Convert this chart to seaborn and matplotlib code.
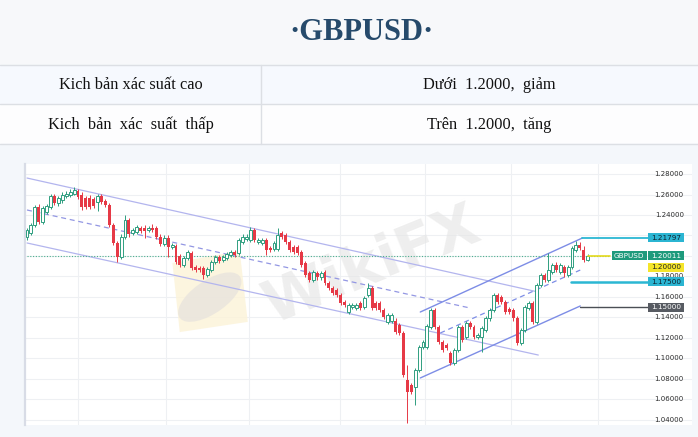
import numpy as np
import matplotlib
matplotlib.use('Agg')
import matplotlib.pyplot as plt
import matplotlib.patches as mpatches
import seaborn as sns

sns.set_theme(style='white')
plt.rcParams['font.family'] = ['DejaVu Sans']

# ---------------- text of the header table ----------------
TITLE = '·GBPUSD·'
ROW_LABELS = ['Kich bản xác suất cao', 'Kich  bản  xác  suất  thấp']
ROW_VALUES = ['Dưới  1.2000,  giảm', 'Trên  1.2000,  tăng']

# ---------------- daily candles GBPUSD ----------------
OPEN = [1.219, 1.222, 1.230, 1.248, 1.233, 1.243, 1.248, 1.259, 1.252, 1.255,
        1.259, 1.260, 1.261, 1.263, 1.260, 1.257, 1.257, 1.256, 1.253, 1.259,
        1.254, 1.250, 1.230, 1.213, 1.199, 1.219, 1.235, 1.222, 1.223, 1.227,
        1.227, 1.225, 1.227, 1.227, 1.219, 1.212, 1.218, 1.209, 1.210, 1.200,
        1.191, 1.198, 1.203, 1.189, 1.188, 1.188, 1.181, 1.186, 1.194, 1.199,
        1.196, 1.198, 1.201, 1.204, 1.203, 1.214, 1.217, 1.216, 1.225, 1.214,
        1.213, 1.216, 1.208, 1.207, 1.207, 1.222, 1.220, 1.214, 1.209, 1.209,
        1.204, 1.193, 1.183, 1.177, 1.183, 1.179, 1.184, 1.174, 1.169, 1.167,
        1.162, 1.155, 1.145, 1.150, 1.149, 1.154, 1.150, 1.162, 1.169, 1.154,
        1.154, 1.147, 1.136, 1.137, 1.137, 1.133, 1.125, 1.079, 1.074, 1.072,
        1.089, 1.111, 1.111, 1.131, 1.147, 1.131, 1.116, 1.113, 1.105, 1.096,
        1.108, 1.131, 1.121, 1.135, 1.131, 1.121, 1.121, 1.128, 1.139, 1.147,
        1.162, 1.160, 1.155, 1.148, 1.147, 1.139, 1.115, 1.128, 1.149, 1.154,
        1.136, 1.172, 1.181, 1.177, 1.184, 1.191, 1.184, 1.189, 1.181, 1.189,
        1.206, 1.211, 1.206, 1.196]
HIGH = [1.227, 1.232, 1.250, 1.251, 1.249, 1.251, 1.261, 1.261, 1.259, 1.262,
        1.263, 1.265, 1.267, 1.265, 1.262, 1.259, 1.260, 1.258, 1.261, 1.261,
        1.256, 1.252, 1.232, 1.215, 1.221, 1.240, 1.237, 1.227, 1.230, 1.229,
        1.230, 1.229, 1.231, 1.229, 1.221, 1.220, 1.220, 1.213, 1.212, 1.202,
        1.200, 1.206, 1.205, 1.191, 1.190, 1.190, 1.189, 1.196, 1.201, 1.201,
        1.201, 1.204, 1.206, 1.206, 1.218, 1.221, 1.221, 1.228, 1.227, 1.218,
        1.218, 1.218, 1.210, 1.215, 1.227, 1.224, 1.222, 1.216, 1.211, 1.211,
        1.206, 1.195, 1.185, 1.186, 1.185, 1.185, 1.186, 1.176, 1.171, 1.169,
        1.164, 1.157, 1.154, 1.154, 1.154, 1.156, 1.161, 1.174, 1.171, 1.156,
        1.156, 1.149, 1.144, 1.144, 1.139, 1.135, 1.127, 1.094, 1.076, 1.091,
        1.113, 1.118, 1.134, 1.149, 1.149, 1.133, 1.118, 1.115, 1.107, 1.110,
        1.133, 1.133, 1.137, 1.137, 1.133, 1.125, 1.132, 1.141, 1.149, 1.164,
        1.164, 1.162, 1.157, 1.150, 1.149, 1.141, 1.130, 1.152, 1.156, 1.156,
        1.174, 1.183, 1.183, 1.203, 1.193, 1.194, 1.193, 1.191, 1.191, 1.210,
        1.215, 1.214, 1.210, 1.202]
LOW = [1.216, 1.220, 1.228, 1.231, 1.231, 1.241, 1.246, 1.250, 1.249, 1.252,
       1.257, 1.258, 1.260, 1.256, 1.245, 1.246, 1.246, 1.247, 1.244, 1.251,
       1.248, 1.228, 1.211, 1.194, 1.197, 1.217, 1.219, 1.220, 1.221, 1.222,
       1.218, 1.223, 1.223, 1.217, 1.210, 1.210, 1.199, 1.207, 1.192, 1.189,
       1.189, 1.196, 1.186, 1.184, 1.184, 1.178, 1.179, 1.184, 1.192, 1.193,
       1.194, 1.196, 1.199, 1.199, 1.201, 1.212, 1.215, 1.214, 1.214, 1.212,
       1.211, 1.201, 1.204, 1.205, 1.205, 1.217, 1.212, 1.204, 1.202, 1.201,
       1.189, 1.179, 1.175, 1.175, 1.177, 1.177, 1.172, 1.167, 1.162, 1.160,
       1.152, 1.150, 1.143, 1.148, 1.147, 1.147, 1.148, 1.160, 1.147, 1.147,
       1.145, 1.138, 1.134, 1.135, 1.124, 1.123, 1.082, 1.037, 1.065, 1.055,
       1.087, 1.109, 1.109, 1.129, 1.129, 1.114, 1.106, 1.108, 1.094, 1.094,
       1.106, 1.116, 1.119, 1.129, 1.119, 1.119, 1.106, 1.126, 1.137, 1.145,
       1.153, 1.153, 1.143, 1.143, 1.137, 1.113, 1.113, 1.126, 1.147, 1.134,
       1.134, 1.170, 1.175, 1.175, 1.182, 1.184, 1.182, 1.179, 1.179, 1.187,
       1.204, 1.206, 1.194, 1.195]
CLOSE = [1.225, 1.230, 1.248, 1.233, 1.247, 1.249, 1.259, 1.252, 1.257, 1.260,
         1.261, 1.262, 1.264, 1.258, 1.248, 1.248, 1.248, 1.249, 1.259, 1.253,
         1.250, 1.230, 1.213, 1.199, 1.219, 1.235, 1.221, 1.225, 1.228, 1.224,
         1.224, 1.227, 1.225, 1.219, 1.212, 1.218, 1.209, 1.211, 1.194, 1.191,
         1.198, 1.204, 1.188, 1.186, 1.186, 1.181, 1.187, 1.194, 1.199, 1.195,
         1.199, 1.202, 1.204, 1.201, 1.216, 1.219, 1.219, 1.225, 1.216, 1.216,
         1.216, 1.206, 1.206, 1.213, 1.220, 1.219, 1.214, 1.206, 1.204, 1.203,
         1.191, 1.181, 1.177, 1.184, 1.179, 1.183, 1.174, 1.169, 1.164, 1.162,
         1.154, 1.152, 1.152, 1.152, 1.152, 1.149, 1.159, 1.169, 1.149, 1.149,
         1.147, 1.140, 1.142, 1.142, 1.126, 1.125, 1.084, 1.067, 1.067, 1.089,
         1.111, 1.116, 1.132, 1.147, 1.131, 1.116, 1.108, 1.110, 1.096, 1.108,
         1.131, 1.118, 1.135, 1.131, 1.121, 1.123, 1.130, 1.139, 1.147, 1.162,
         1.155, 1.155, 1.145, 1.145, 1.139, 1.115, 1.128, 1.150, 1.154, 1.136,
         1.172, 1.181, 1.177, 1.186, 1.191, 1.186, 1.191, 1.183, 1.189, 1.208,
         1.211, 1.208, 1.196, 1.20011]

# price-axis ticks; 1.22 and 1.20 sit under the level tags so only gridlines show
Y_GRID = [1.28, 1.26, 1.24, 1.22, 1.20, 1.18, 1.16, 1.14, 1.12, 1.10, 1.08, 1.06, 1.04]
Y_TICKS = [1.28, 1.26, 1.24, 1.18, 1.16, 1.14, 1.12, 1.10, 1.08, 1.06, 1.04]

# drawn trend channels: (bar index, price) end points
DOWN_UPPER = ([0, 130.4], [1.2761, 1.1648])
DOWN_MID = ([0, 113.0], [1.2449, 1.1492])
DOWN_LOWER = ([0, 130.4], [1.2127, 1.1033])
UP_UPPER = ([100.3, 141.6], [1.1453, 1.2175])
UP_MID = ([105.4, 141.1], [1.1248, 1.1863])
UP_LOWER = ([100.3, 141.1], [1.0809, 1.1512])

# horizontal levels
LAST_PRICE = 1.20011
LEVEL_TOP = 1.21797
LEVEL_PIVOT = 1.20000
LEVEL_SUPPORT = 1.17500
LEVEL_LOW = 1.15000

GREEN = '#2f9e80'
RED = '#e63946'
CYAN = '#2bb7d3'

W, H = 698, 437
fig = plt.figure(figsize=(W / 100, H / 100), dpi=100)

# ---------- background axes in pixel units ----------
bg = fig.add_axes([0, 0, 1, 1])
bg.set_xlim(0, W)
bg.set_ylim(H, 0)
bg.axis('off')
bg.add_patch(mpatches.Rectangle((0, 0), W, 65, color='#f7f8fa', zorder=0))
bg.add_patch(mpatches.Rectangle((0, 65), W, 39, color='#f6f9fe', zorder=0))
bg.add_patch(mpatches.Rectangle((0, 104), W, 40, color='#fdfdfe', zorder=0))
bg.add_patch(mpatches.Rectangle((0, 144), W, H - 144, color='#f4f7fb', zorder=0))
for yy in (65, 104, 144):
    bg.plot([0, W], [yy, yy], color='#dcdfe4', lw=1, zorder=1)
bg.plot([261, 261], [65, 144], color='#dcdfe4', lw=1, zorder=1)

bg.text(361, 33, TITLE, ha='center', va='center', fontsize=22, fontweight='bold',
        family='Liberation Serif', color='#264a6b')
for k, (lab, val) in enumerate(zip(ROW_LABELS, ROW_VALUES)):
    yc = 85 + 40 * k
    bg.text(131, yc, lab, ha='center', va='center', fontsize=11.8,
            family='Liberation Serif', color='#111111')
    bg.text(489, yc, val, ha='center', va='center', fontsize=11.8,
            family='Liberation Serif', color='#111111')

# ---------- chart ----------
ax = fig.add_axes([25 / W, 12 / H, 667 / W, 261 / H])
ax.set_facecolor('white')
ax.set_xlim(-0.51, 169.6)
ax.set_ylim(1.035, 1.2898)
ax.set_xticks([])
ax.set_yticks([])
for s in ('top', 'right', 'bottom'):
    ax.spines[s].set_visible(False)
ax.spines['left'].set_color('#d8dce6')
ax.spines['left'].set_linewidth(1.6)

# grid
for t in Y_GRID:
    ax.axhline(t, color='#eef0f3', lw=0.8, zorder=0)
for gx in (13, 35.5, 56.6, 79.8, 101.5, 123.5, 145.7):
    ax.axvline(gx, color='#eef0f3', lw=0.8, zorder=0)

# watermark
ax.add_patch(mpatches.Polygon([(0.221, 0.621), (0.322, 0.667), (0.334, 0.395), (0.232, 0.356)],
                              closed=True, transform=ax.transAxes, color='#fcf3d8',
                              alpha=0.8, zorder=0.6, lw=0))
ax.add_patch(mpatches.Ellipse((0.277, 0.49), 0.07, 0.2, angle=-20, transform=ax.transAxes,
                              color='#e6e2dd', alpha=0.7, zorder=0.7, lw=0))
ax.text(0.52, 0.61, 'WikiFX', transform=ax.transAxes, ha='center', va='center',
        fontsize=42, fontweight='bold', rotation=22, color='#e6e6e6', alpha=0.65, zorder=0.7)

# channels
lc_down = '#b3b5ee'
lc_up = '#7d8de6'
sns.lineplot(x=DOWN_UPPER[0], y=DOWN_UPPER[1], ax=ax, color=lc_down, lw=0.9, zorder=2)
sns.lineplot(x=DOWN_MID[0], y=DOWN_MID[1], ax=ax, color='#9397e3', lw=0.9, zorder=2,
             linestyle=(0, (4, 3)))
sns.lineplot(x=DOWN_LOWER[0], y=DOWN_LOWER[1], ax=ax, color=lc_down, lw=0.9, zorder=2)
sns.lineplot(x=UP_UPPER[0], y=UP_UPPER[1], ax=ax, color=lc_up, lw=1.0, zorder=2)
sns.lineplot(x=UP_MID[0], y=UP_MID[1], ax=ax, color=lc_up, lw=0.9, zorder=2,
             linestyle=(0, (4, 3)))
sns.lineplot(x=UP_LOWER[0], y=UP_LOWER[1], ax=ax, color=lc_up, lw=1.0, zorder=2)

# candles
o = np.array(OPEN)
h = np.array(HIGH)
l = np.array(LOW)
c = np.array(CLOSE)
x = np.arange(len(o))
up = c >= o
ax.vlines(x, l, h, colors=np.where(up, GREEN, RED), lw=0.7, zorder=3)
ax.bar(x[up], np.maximum(c[up] - o[up], 0.0006), bottom=o[up], width=0.75,
       facecolor='white', edgecolor=GREEN, lw=0.7, zorder=4)
ax.bar(x[~up], np.maximum(o[~up] - c[~up], 0.0006), bottom=c[~up], width=0.75,
       color=RED, lw=0, zorder=4)

# price axis labels, drawn inside the pane
for t in Y_TICKS:
    ax.text(163.8, t, f'{t:.5f}', ha='center', va='center', fontsize=5,
            color='#2b2b2b', zorder=5)

# level lines
ax.plot([0, 148.7], [LAST_PRICE, LAST_PRICE], color='#4caf8f', lw=0.8,
        linestyle=(0, (1, 1.5)), zorder=2.5)
ax.plot([143, 148.7], [LEVEL_PIVOT, LEVEL_PIVOT], color='#e6da1c', lw=1.2, zorder=5)
ax.plot([141.6, 158.4], [LEVEL_TOP, LEVEL_TOP], color=CYAN, lw=1.3, zorder=5)
ax.plot([138.8, 158.4], [LEVEL_SUPPORT, LEVEL_SUPPORT], color=CYAN, lw=1.8, zorder=5)
ax.plot([141.1, 158.4], [LEVEL_LOW, LEVEL_LOW], color='#4b4f55', lw=1.0, zorder=5)


def tag(xc, yc, text, fc, tc, wid=9.2):
    hgt = 0.0088
    ax.add_patch(mpatches.Rectangle((xc - wid / 2, yc - hgt / 2), wid, hgt,
                                    facecolor=fc, edgecolor='none', zorder=6))
    ax.text(xc, yc, text, ha='center', va='center', fontsize=5.2, color=tc, zorder=7)


tag(163.0, LEVEL_TOP, f'{LEVEL_TOP:.5f}', '#2bb5d2', '#0e2230')
tag(153.6, LAST_PRICE, 'GBPUSD', '#1e9a7c', 'white', wid=9.0)
tag(163.0, LAST_PRICE, f'{LAST_PRICE:.5f}', '#1e9a7c', 'white')
tag(163.0, LEVEL_PIVOT - 0.0108, f'{LEVEL_PIVOT:.5f}', '#f5e52a', '#222222')
tag(163.0, LEVEL_SUPPORT, f'{LEVEL_SUPPORT:.5f}', '#2bb5d2', '#0e2230')
tag(163.0, LEVEL_LOW, f'{LEVEL_LOW:.5f}', '#575b62', 'white')

fig.savefig('out.png', dpi=100)
